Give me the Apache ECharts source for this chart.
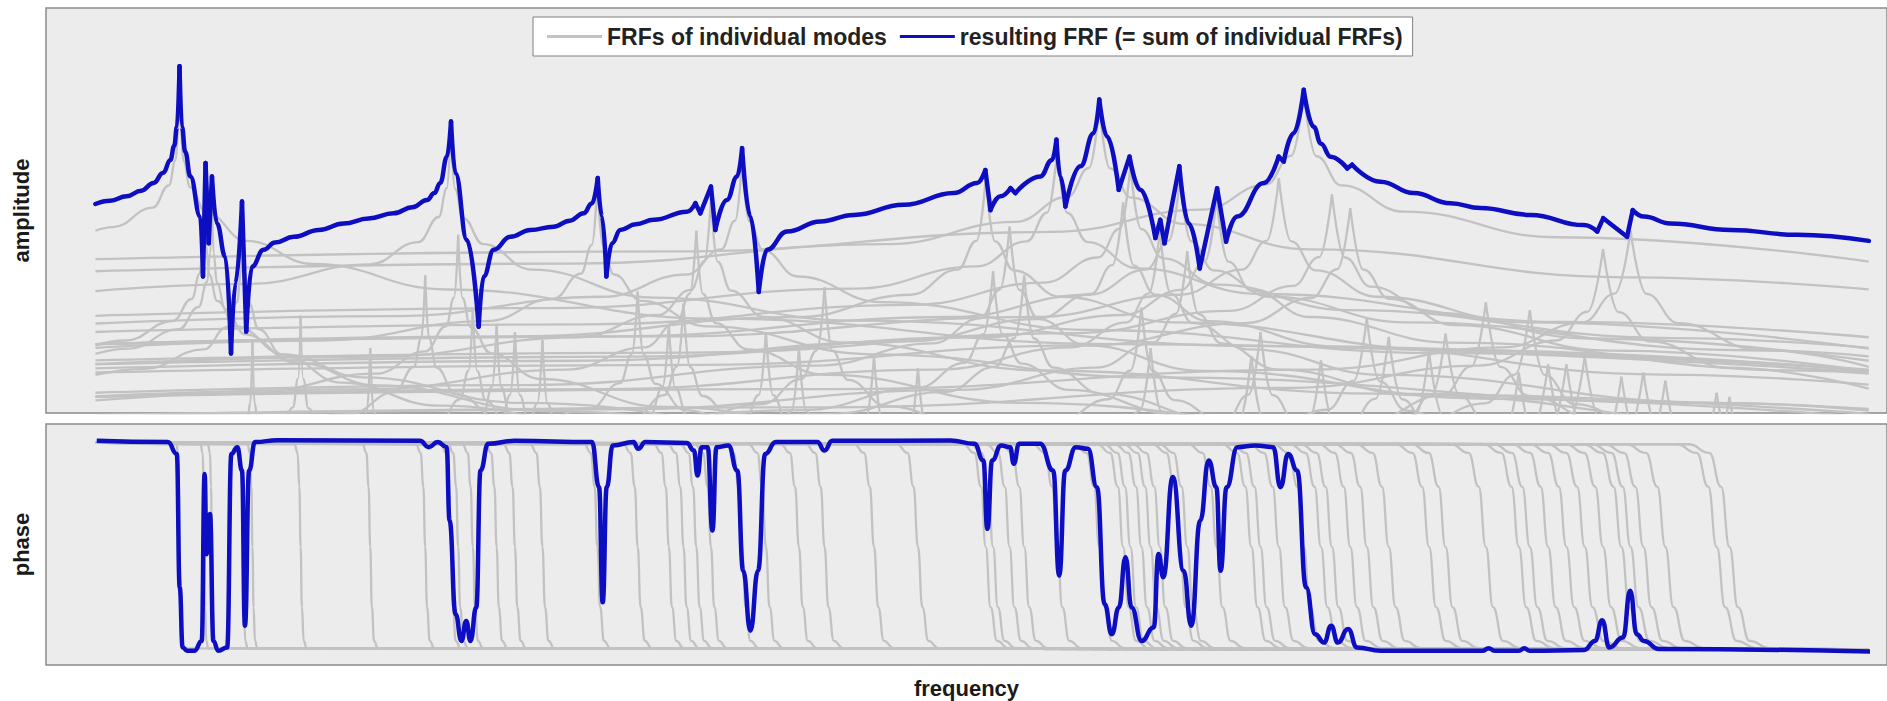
<!DOCTYPE html>
<html><head><meta charset="utf-8">
<script src="https://cdn.jsdelivr.net/npm/echarts@6/dist/echarts.min.js"></script>
<style>html,body{margin:0;padding:0;background:#fff}#c{width:1887px;height:701px}</style>
</head><body><div id="c"></div><script>
const seriesNames = ['FRFs of individual modes', 'resulting FRF (= sum of individual FRFs)'];
const axisNames = {amp: 'amplitude', phase: 'phase', freq: 'frequency'};

// resulting FRF, amplitude
const blueAmp = [[2.69,51.6],[3.5,52.4],[4.40,53.5],[5.2,54.9],[5.87,56.8],[6.4,59.3],[6.79,62.5],[7.0,66],[7.15,70.7],[7.29,85.6],[7.42,70.7],[7.6,64.5],[7.88,58.4],[8.42,48.5],[8.57,33.7],[8.71,61.7],[8.88,41.9],[9.06,58.4],[9.33,46.8],[9.79,38.6],[10.10,14.7],[10.34,32.0],[10.70,52.2],[10.93,20.1],[11.24,36.1],[11.88,40.3],[12.5,42.1],[13.52,43.5],[14.9,45.2],[16.25,46.8],[17.6,48.0],[18.98,49.3],[20.0,50.8],[20.80,52.6],[21.2,54.3],[21.52,56.8],[21.89,63.3],[22.11,72.0],[22.35,59.2],[22.98,42.7],[23.62,21.3],[23.89,33.7],[24.44,40.3],[25.35,43.5],[26.44,45.2],[27.71,46.0],[28.6,47.5],[29.35,49.3],[29.81,51.8],[30.12,58.0],[30.35,48.5],[30.59,33.7],[30.90,41.9],[31.35,45.2],[32.2,46.6],[33.17,47.7],[34.99,49.7],[35.45,51.8],[35.72,49.3],[36.30,55.9],[36.54,45.2],[37.17,52.6],[37.73,58.4],[38.0,65.4],[38.45,48.5],[38.91,29.9],[39.36,40.3],[40.45,44.8],[42.27,47.3],[44.09,48.9],[46.82,51.4],[49.55,54.3],[50.83,56.8],[51.28,60.0],[51.56,50.1],[52.10,53.5],[52.65,55.5],[52.92,54.3],[54.28,58.4],[54.92,62.5],[55.16,67.5],[55.37,58.4],[55.65,51.0],[56.47,60.9],[57.19,69.1],[57.50,77.4],[57.92,68.3],[58.56,55.1],[59.15,63.3],[59.74,55.1],[60.56,43.2],[60.83,47.7],[61.06,41.9],[61.87,60.9],[62.38,46.8],[62.98,35.7],[63.93,55.5],[64.42,42.3],[65.02,48.5],[66.48,56.8],[67.29,63.3],[67.57,62.1],[68.11,69.1],[68.66,79.8],[69.20,70.7],[69.6,66.5],[70.12,63.3],[71.03,60.4],[71.30,61.3],[72.85,57.1],[74.66,54.3],[76.67,51.8],[78.31,50.6],[81.04,48.9],[83.95,46.4],[84.68,44.8],[85.01,48.1],[86.31,43.5],[86.62,50.1],[87.23,48.5],[88.68,46.8],[91.96,45.2],[95.6,44.0],[99.51,42.5]];

// resulting FRF, phase
const bluePhase = [[2.77,93],[6.65,92.5],[7.14,87.6],[7.30,32.2],[7.46,7.3],[7.7,5.9],[8.11,5.9],[8.50,10],[8.66,79.3],[8.76,46],[8.95,62.7],[9.14,10],[9.40,5.9],[9.89,7.3],[10.12,87.6],[10.44,90.4],[10.70,80.7],[10.86,16.3],[11.09,80.7],[11.41,92.5],[12.64,93.3],[20.41,93],[20.9,90.4],[21.38,92.5],[21.87,90.4],[22.03,60],[22.36,21.1],[22.68,10],[22.94,18.3],[23.17,10],[23.49,24],[23.72,80.7],[24.14,91.8],[25.59,93],[29.80,92.5],[30.19,73.8],[30.39,26],[30.61,73.8],[30.94,91.1],[32.07,92.5],[32.33,89.7],[32.72,92.5],[34.98,92.1],[35.37,89],[35.57,78.6],[35.79,90.4],[36.12,90.4],[36.38,55.8],[36.6,90.4],[37.25,91.1],[37.74,80.7],[38.06,39.1],[38.45,14.2],[38.87,39.1],[39.26,87.6],[39.84,92.5],[42.11,92.5],[42.5,89],[42.92,93],[49.37,93.2],[50.68,91.8],[51.17,84.9],[51.39,56.5],[51.65,84.9],[52.14,91.1],[52.63,90.4],[52.83,83.5],[53.12,91.8],[54.27,91.8],[54.98,80.7],[55.31,37.1],[55.64,80.7],[56.22,90.4],[56.88,89.7],[57.37,73.8],[57.79,25.3],[58.18,12.8],[58.57,23.9],[58.93,44.7],[59.26,23.9],[59.81,10],[60.47,15.6],[60.73,46.1],[60.99,36.4],[61.51,78],[62.1,39.1],[62.52,16.3],[63.01,59.9],[63.47,84.9],[63.89,73.8],[64.12,39.1],[64.45,73.8],[65.04,90.4],[66.02,91.1],[66.99,90.4],[67.39,73.8],[67.81,87.6],[68.3,80.7],[68.79,32.2],[69.28,12.8],[69.77,9.3],[70.16,16.3],[70.52,9.3],[71.08,14.9],[71.57,7.3],[72.87,5.9],[78.42,5.9],[78.75,7],[79.07,5.9],[80.4,5.9],[80.7,6.9],[81.0,5.9],[83.97,6.2],[84.56,10],[84.95,18.6],[85.34,7.3],[86.09,11.4],[86.48,30.8],[86.84,12.8],[87.23,10],[88.05,6.6],[99.57,5.6]];

// individual modes, amplitude
const grayAmp = [
[[2.7,45],[3.65,45.9],[5.83,50.7],[6.71,56.2],[7.07,62.4],[7.22,69.5],[7.29,85],[7.36,69.4],[7.51,62.2],[7.87,55.7],[8.75,49.4],[10.94,42.5],[14.58,36.8],[21.87,30.5],[36.45,23.3],[58.3,17],[99.5,10]],
[[2.7,16.7],[4.33,17.9],[6.92,22.7],[7.96,28.2],[8.39,34.4],[8.56,41.5],[8.65,57],[8.74,41.4],[8.91,34.2],[9.34,27.7],[10.38,21.4],[12.98,14.5],[17.3,8.8],[25.95,2.5],[43.25,-4.7],[99.5,-15.8]],
[[2.7,14.6],[4.53,15.9],[7.25,20.7],[8.34,26.2],[8.79,32.4],[8.97,39.5],[9.06,55],[9.15,39.4],[9.33,32.2],[9.78,25.7],[10.87,19.4],[13.59,12.5],[18.12,6.8],[27.18,0.5],[45.3,-6.7],[99.5,-17.2]],
[[2.7,9.4],[5.38,10.9],[8.6,15.7],[9.89,21.2],[10.43,27.4],[10.64,34.5],[10.75,50],[10.86,34.4],[11.07,27.2],[11.61,20.7],[12.9,14.4],[16.13,7.5],[21.5,1.8],[32.25,-4.5],[53.75,-11.7],[99.5,-19.9]],
[[2.7,-22.6],[5.64,-21.1],[9.02,-16.3],[10.37,-10.8],[10.93,-4.6],[11.16,2.5],[11.27,18],[11.38,2.4],[11.61,-4.8],[12.17,-11.3],[13.52,-17.6],[16.9,-24.5],[99.5,-55]],
[[2.7,-17],[6.95,-15.1],[11.12,-10.3],[12.79,-4.8],[13.48,1.4],[13.76,8.5],[13.9,24],[14.04,8.4],[14.32,1.2],[15.01,-5.3],[16.68,-11.6],[20.85,-18.5],[99.5,-50]],
[[2.7,-25],[14.16,-18.3],[16.28,-12.8],[17.17,-6.6],[17.52,0.5],[17.7,16],[17.88,0.4],[18.23,-6.8],[19.12,-13.3],[21.24,-19.6],[99.5,-55]],
[[2.7,-7],[10.35,-5.1],[16.56,-0.3],[19.04,5.2],[20.08,11.4],[20.49,18.5],[20.7,34],[20.91,18.4],[21.32,11.2],[22.36,4.7],[24.84,-1.6],[31.05,-8.5],[41.4,-14.2],[62.1,-20.5],[99.5,-27.2]],
[[2.7,30.1],[11.05,31.9],[17.68,36.7],[20.33,42.2],[21.44,48.4],[21.88,55.5],[22.1,71],[22.32,55.4],[22.76,48.2],[23.87,41.7],[26.52,35.4],[33.15,28.5],[44.2,22.8],[66.3,16.5],[99.5,10.7]],
[[2.7,3.1],[11.25,4.9],[18,9.7],[20.7,15.2],[21.83,21.4],[22.28,28.5],[22.5,44],[22.73,28.4],[23.18,21.2],[24.3,14.7],[27,8.4],[33.75,1.5],[45,-4.2],[67.5,-10.5],[99.5,-16]],
[[2.7,-15],[11.65,-13.1],[18.64,-8.3],[21.44,-2.8],[22.6,3.4],[23.07,10.5],[23.3,26],[23.53,10.4],[24.0,3.2],[25.16,-3.3],[27.96,-9.6],[34.95,-16.5],[99.5,-40]],
[[2.7,-19],[19.68,-12.3],[22.63,-6.8],[23.86,-0.6],[24.35,6.5],[24.6,22],[24.85,6.4],[25.34,-0.8],[26.57,-7.3],[29.52,-13.6],[99.5,-45]],
[[2.7,-21],[20.48,-14.3],[23.55,-8.8],[24.83,-2.6],[25.34,4.5],[25.6,20],[25.86,4.4],[26.37,-2.8],[27.65,-9.3],[99.5,-45]],
[[2.7,-23],[21.68,-16.3],[24.93,-10.8],[26.29,-4.6],[26.83,2.5],[27.1,18],[27.37,2.4],[27.91,-4.8],[29.27,-11.3],[99.5,-45]],
[[2.7,16.1],[15.05,17.9],[24.08,22.7],[27.69,28.2],[29.2,34.4],[29.8,41.5],[30.1,57],[30.4,41.4],[31.0,34.2],[32.51,27.7],[36.12,21.4],[45.15,14.5],[60.2,8.8],[90.3,2.5],[99.5,1]],
[[2.7,-11],[16.15,-9.1],[25.84,-4.3],[29.72,1.2],[31.33,7.4],[31.98,14.5],[32.3,30],[32.62,14.4],[33.27,7.2],[34.88,0.7],[38.76,-5.6],[48.45,-12.5],[64.6,-18.2],[99.5,-25]],
[[2.7,-19],[27.2,-12.3],[31.28,-6.8],[32.98,-0.6],[33.66,6.5],[34,22],[34.34,6.4],[35.02,-0.8],[36.72,-7.3],[40.8,-13.6],[99.5,-40]],
[[2.7,-14],[27.84,-7.3],[32.02,-1.8],[33.76,4.4],[34.45,11.5],[34.8,27],[35.15,11.4],[35.84,4.2],[37.58,-2.3],[41.76,-8.6],[52.2,-15.5],[99.5,-30]],
[[2.7,4.1],[17.75,5.9],[28.4,10.7],[32.66,16.2],[34.44,22.4],[35.15,29.5],[35.5,45],[35.86,29.4],[36.57,22.2],[38.34,15.7],[42.6,9.4],[53.25,2.5],[71,-3.2],[99.5,-8.5]],
[[2.7,12.1],[18.15,13.9],[29.04,18.7],[33.4,24.2],[35.21,30.4],[35.94,37.5],[36.3,53],[36.66,37.4],[37.39,30.2],[39.2,23.7],[43.56,17.4],[54.45,10.5],[72.6,4.8],[99.5,-0.2]],
[[2.7,22.1],[19,23.9],[30.4,28.7],[34.96,34.2],[36.86,40.4],[37.62,47.5],[38,63],[38.38,47.4],[39.14,40.2],[41.04,33.7],[45.6,27.4],[57,20.5],[76,14.8],[99.5,10.5]],
[[2.7,-21],[31.44,-14.3],[36.16,-8.8],[38.12,-2.6],[38.91,4.5],[39.3,20],[39.69,4.4],[40.48,-2.8],[42.44,-9.3],[99.5,-40]],
[[2.7,-25],[37.81,-12.8],[39.87,-6.6],[40.69,0.5],[41.1,16],[41.51,0.4],[42.33,-6.8],[44.39,-13.3],[99.5,-40]],
[[2.7,-10],[34,-3.3],[39.1,2.2],[41.23,8.4],[42.08,15.5],[42.5,31],[42.93,15.4],[43.78,8.2],[45.9,1.7],[51,-4.6],[63.75,-11.5],[85,-17.2],[99.5,-19.5]],
[[2.7,-27],[41.58,-14.8],[43.84,-8.6],[44.75,-1.5],[45.2,14],[45.65,-1.6],[46.56,-8.8],[48.82,-15.3],[99.5,-40]],
[[2.7,-30],[43.79,-17.8],[46.17,-11.6],[47.12,-4.5],[47.6,11],[48.08,-4.6],[49.03,-11.8],[51.41,-18.3],[99.5,-40]],
[[2.7,17],[25.65,18.9],[41.04,23.7],[47.2,29.2],[49.76,35.4],[50.79,42.5],[51.3,58],[51.81,42.4],[52.84,35.2],[55.4,28.7],[61.56,22.4],[76.95,15.5],[99.5,10.4]],
[[2.7,-6],[25.85,-4.1],[41.36,0.7],[47.56,6.2],[50.15,12.4],[51.18,19.5],[51.7,35],[52.22,19.4],[53.25,12.2],[55.84,5.7],[62.04,-0.6],[77.55,-7.5],[99.5,-12.4]],
[[2.7,5],[26.3,6.9],[42.08,11.7],[48.39,17.2],[51.02,23.4],[52.07,30.5],[52.6,46],[53.13,30.4],[54.18,23.2],[56.81,16.7],[63.12,10.4],[78.9,3.5],[99.5,-1.2]],
[[2.7,-7],[26.7,-5.1],[42.72,-0.3],[49.13,5.2],[51.8,11.4],[52.87,18.5],[53.4,34],[53.93,18.4],[55.0,11.2],[57.67,4.7],[64.08,-1.6],[80.1,-8.5],[99.5,-12.9]],
[[2.7,24],[27.6,25.9],[44.16,30.7],[50.78,36.2],[53.54,42.4],[54.65,49.5],[55.2,65],[55.75,49.4],[56.86,42.2],[59.62,35.7],[66.24,29.4],[82.8,22.5],[99.5,18.7]],
[[2.7,35],[28.75,36.9],[46,41.7],[52.9,47.2],[55.78,53.4],[56.93,60.5],[57.5,76],[58.08,60.4],[59.23,53.2],[62.1,46.7],[69,40.4],[86.25,33.5],[99.5,30.5]],
[[2.7,11],[29.4,12.9],[47.04,17.7],[54.1,23.2],[57.04,29.4],[58.21,36.5],[58.8,52],[59.39,36.4],[60.56,29.2],[63.5,22.7],[70.56,16.4],[88.2,9.5],[99.5,7]],
[[2.7,20],[29.6,21.9],[47.36,26.7],[54.46,32.2],[57.42,38.4],[58.61,45.5],[59.2,61],[59.79,45.4],[60.98,38.2],[63.94,31.7],[71.04,25.4],[88.8,18.5],[99.5,16.1]],
[[2.7,-15],[29.9,-13.1],[47.84,-8.3],[55.02,-2.8],[58.01,3.4],[59.2,10.5],[59.8,26],[60.4,10.4],[61.59,3.2],[64.58,-3.3],[71.76,-9.6],[89.7,-16.5],[99.5,-18.5]],
[[2.7,4],[30.4,5.9],[48.64,10.7],[55.94,16.2],[58.98,22.4],[60.19,29.5],[60.8,45],[61.41,29.4],[62.62,22.2],[65.66,15.7],[72.96,9.4],[91.2,2.5],[99.5,0.6]],
[[2.7,17],[30.95,18.9],[49.52,23.7],[56.95,29.2],[60.04,35.4],[61.28,42.5],[61.9,58],[62.52,42.4],[63.76,35.2],[66.85,28.7],[74.28,22.4],[92.85,15.5],[99.5,14]],
[[2.7,-1],[31.15,0.9],[49.84,5.7],[57.32,11.2],[60.43,17.4],[61.68,24.5],[62.3,40],[62.92,24.4],[64.17,17.2],[67.28,10.7],[74.76,4.4],[93.45,-2.5],[99.5,-3.8]],
[[2.7,12],[31.95,13.9],[51.12,18.7],[58.79,24.2],[61.98,30.4],[63.26,37.5],[63.9,53],[64.54,37.4],[65.82,30.2],[69.01,23.7],[76.68,17.4],[95.85,10.5],[99.5,9.7]],
[[2.7,-27],[60.54,-14.8],[63.83,-8.6],[65.14,-1.5],[65.8,14],[66.46,-1.6],[67.77,-8.8],[71.06,-15.3],[99.5,-30]],
[[2.7,-21],[53.04,-14.3],[61,-8.8],[64.31,-2.6],[65.64,4.5],[66.3,20],[66.96,4.4],[68.29,-2.8],[71.6,-9.3],[79.56,-15.6],[99.5,-22]],
[[2.7,17],[33.65,18.9],[53.84,23.7],[61.92,29.2],[65.28,35.4],[66.63,42.5],[67.3,58],[67.97,42.4],[69.32,35.2],[72.68,28.7],[80.76,22.4],[99.5,15.9]],
[[2.7,38],[34.33,39.9],[54.93,44.7],[63.17,50.2],[66.6,56.4],[67.97,63.5],[68.66,79],[69.35,63.4],[70.72,56.2],[74.15,49.7],[82.39,43.4],[99.5,37.4]],
[[2.7,13],[35.1,14.9],[56.16,19.7],[64.58,25.2],[68.09,31.4],[69.5,38.5],[70.2,54],[70.9,38.4],[72.31,31.2],[75.82,24.7],[84.24,18.4],[99.5,12.9]],
[[2.7,10],[35.6,11.9],[56.96,16.7],[65.5,22.2],[69.06,28.4],[70.49,35.5],[71.2,50.6],[71.91,35.4],[73.34,28.2],[76.9,21.7],[85.44,15.4],[99.5,10.3]],
[[2.7,-17.6],[57.68,-10.9],[66.33,-5.4],[69.94,0.8],[71.38,7.9],[72.1,23.4],[72.82,7.8],[74.26,0.6],[77.87,-5.9],[86.52,-12.2],[99.5,-17]],
[[2.7,-22],[58.64,-15.3],[67.44,-9.8],[71.1,-3.6],[72.57,3.5],[73.3,18.8],[74.03,3.4],[75.5,-3.8],[79.16,-10.3],[87.96,-16.6],[99.5,-21]],
[[2.7,-26],[69.46,-13.8],[73.24,-7.6],[74.75,-0.5],[75.5,15],[76.26,-0.6],[77.77,-7.8],[81.54,-14.3],[99.5,-25]],
[[2.7,-21],[61.12,-14.3],[70.29,-8.8],[74.11,-2.6],[75.64,4.5],[76.4,19.6],[77.16,4.4],[78.69,-2.8],[82.51,-9.3],[91.68,-15.6],[99.5,-19]],
[[2.7,-14],[62.88,-7.3],[72.31,-1.8],[76.24,4.4],[77.81,11.5],[78.6,27.3],[79.39,11.4],[80.96,4.2],[84.89,-2.3],[94.32,-8.6],[99.5,-10.7]],
[[2.7,-16],[64.8,-9.3],[74.52,-3.8],[78.57,2.4],[80.19,9.5],[81,25.4],[81.81,9.4],[83.43,2.2],[87.48,-4.3],[97.2,-10.6],[99.5,-11.6]],
[[2.7,-29],[75.44,-16.8],[79.54,-10.6],[81.18,-3.5],[82,12],[82.82,-3.6],[84.46,-10.8],[88.56,-17.3],[99.5,-25]],
[[2.7,-29],[76.36,-16.8],[80.51,-10.6],[82.17,-3.5],[83,12],[83.83,-3.6],[85.49,-10.8],[89.64,-17.3],[99.5,-25]],
[[2.7,-0.5],[42.5,1.4],[68,6.2],[78.2,11.7],[82.45,17.9],[84.15,25],[85,40.5],[85.85,24.9],[87.55,17.7],[91.8,11.2],[99.5,6]],
[[2.7,4],[43.25,5.9],[69.2,10.7],[79.58,16.2],[83.91,22.4],[85.64,29.5],[86.5,45],[87.37,29.4],[89.1,22.2],[93.42,15.7],[99.5,11.4]],
[[2.7,-31],[80.22,-18.8],[84.58,-12.6],[86.33,-5.5],[87.2,10],[88.07,-5.6],[89.82,-12.8],[94.18,-19.3],[99.5,-22]],
[[2.7,-33],[81.33,-20.8],[85.75,-14.6],[87.52,-7.5],[88.4,8],[89.28,-7.6],[91.05,-14.8],[95.47,-21.3],[99.5,-23]],
[[2.7,-37],[84.55,-24.8],[89.14,-18.6],[90.98,-11.5],[91.9,4],[92.82,-11.6],[94.66,-18.8],[99.5,-25]],
[[2.7,-25],[55.48,-12.8],[58.49,-6.6],[59.7,0.5],[60.3,16],[60.9,0.4],[62.11,-6.8],[65.12,-13.3],[99.5,-30]],
[[2.7,-28],[64.03,-15.8],[67.51,-9.6],[68.9,-2.5],[69.6,13],[70.3,-2.6],[71.69,-9.8],[75.17,-16.3],[99.5,-30]],
[[2.7,-31],[73.97,-18.8],[77.99,-12.6],[79.6,-5.5],[80.4,10],[81.2,-5.6],[82.81,-12.8],[86.83,-19.3],[99.5,-25]],
[[2.7,-27],[77.28,-14.8],[81.48,-8.6],[83.16,-1.5],[84,14],[84.84,-1.6],[86.52,-8.8],[90.72,-15.3],[99.5,-22]],
[[2.7,-32],[79.12,-19.8],[83.42,-13.6],[85.14,-6.5],[86,9],[86.86,-6.6],[88.58,-13.8],[92.88,-20.3],[99.5,-23]],
[[2.7,-36],[83.9,-23.8],[88.46,-17.6],[90.29,-10.5],[91.2,5],[92.11,-10.6],[93.94,-17.8],[99.5,-25]]
];

// individual modes, phase: the levels each curve passes through, and the frequencies where it does
const phaseLevels = [92.3, 91.6, 88, 74, 49, 24, 10, 6.9, 6.4];
const grayPhaseX = [
[2.7,7.12,7.2,7.25,7.29,7.33,7.38,7.46,99.5],
[2.7,8.44,8.55,8.61,8.65,8.69,8.75,8.86,99.5],
[2.7,8.84,8.95,9.01,9.06,9.11,9.17,9.28,99.5],
[2.7,10.49,10.62,10.7,10.75,10.8,10.88,11.01,99.5],
[2.7,11.0,11.13,11.21,11.27,11.33,11.41,11.54,99.5],
[2.7,13.57,13.73,13.83,13.9,13.97,14.07,14.23,99.5],
[2.7,17.28,17.49,17.61,17.7,17.79,17.91,18.12,99.5],
[2.7,20.2,20.45,20.6,20.7,20.8,20.95,21.2,99.5],
[2.7,21.57,21.83,21.99,22.1,22.21,22.37,22.63,99.5],
[2.7,21.96,22.23,22.39,22.5,22.61,22.77,23.04,99.5],
[2.7,22.74,23.02,23.18,23.3,23.42,23.58,23.86,99.5],
[2.7,24.01,24.3,24.48,24.6,24.72,24.9,25.19,99.5],
[2.7,24.99,25.29,25.47,25.6,25.73,25.91,26.21,99.5],
[2.7,26.45,26.77,26.96,27.1,27.24,27.43,27.75,99.5],
[2.7,29.38,29.74,29.95,30.1,30.25,30.46,30.82,99.5],
[2.7,31.52,31.91,32.14,32.3,32.46,32.69,33.08,99.5],
[2.7,33.18,33.59,33.83,34,34.17,34.41,34.82,99.5],
[2.7,33.96,34.38,34.63,34.8,34.97,35.22,35.64,99.5],
[2.7,34.65,35.07,35.32,35.5,35.68,35.93,36.35,99.5],
[2.7,35.43,35.86,36.12,36.3,36.48,36.74,37.17,99.5],
[2.7,37.09,37.54,37.81,38,38.19,38.46,38.91,99.5],
[2.7,38.36,38.83,39.1,39.3,39.5,39.77,40.24,99.5],
[2.7,40.11,40.61,40.89,41.1,41.31,41.59,42.09,99.5],
[2.7,41.48,41.99,42.29,42.5,42.71,43.01,43.52,99.5],
[2.7,44.12,44.66,44.97,45.2,45.43,45.74,46.28,99.5],
[2.7,46.46,47.03,47.36,47.6,47.84,48.17,48.74,99.5],
[2.7,50.07,50.68,51.04,51.3,51.56,51.92,52.53,99.5],
[2.7,50.46,51.08,51.44,51.7,51.96,52.32,52.94,99.5],
[2.7,51.34,51.97,52.34,52.6,52.86,53.23,53.86,99.5],
[2.7,52.12,52.76,53.13,53.4,53.67,54.04,54.68,99.5],
[2.7,53.88,54.54,54.92,55.2,55.48,55.86,56.52,99.5],
[2.7,56.12,56.81,57.21,57.5,57.79,58.19,58.88,99.5],
[2.7,57.39,58.09,58.51,58.8,59.09,59.51,60.21,99.5],
[2.7,57.78,58.49,58.9,59.2,59.5,59.91,60.62,99.5],
[2.7,58.36,59.08,59.5,59.8,60.1,60.52,61.24,99.5],
[2.7,59.34,60.07,60.5,60.8,61.1,61.53,62.26,99.5],
[2.7,60.41,61.16,61.59,61.9,62.21,62.64,63.39,99.5],
[2.7,60.8,61.55,61.99,62.3,62.61,63.05,63.8,99.5],
[2.7,62.37,63.13,63.58,63.9,64.22,64.67,65.43,99.5],
[2.7,64.22,65.01,65.47,65.8,66.13,66.59,67.38,99.5],
[2.7,64.71,65.5,65.97,66.3,66.63,67.1,67.89,99.5],
[2.7,65.68,66.49,66.96,67.3,67.64,68.11,68.92,99.5],
[2.7,67.01,67.84,68.32,68.66,69.0,69.48,70.31,99.5],
[2.7,68.52,69.36,69.85,70.2,70.55,71.04,71.88,99.5],
[2.7,69.49,70.35,70.84,71.2,71.56,72.05,72.91,99.5],
[2.7,70.37,71.23,71.74,72.1,72.46,72.97,73.83,99.5],
[2.7,71.54,72.42,72.93,73.3,73.67,74.18,75.06,99.5],
[2.7,73.69,74.59,75.12,75.5,75.88,76.41,77.31,99.5],
[2.7,74.57,75.48,76.02,76.4,76.78,77.32,78.23,99.5],
[2.7,76.71,77.66,78.21,78.6,78.99,79.54,80.49,99.5],
[2.7,79.06,80.03,80.59,81,81.41,81.97,82.94,99.5],
[2.7,80.03,81.02,81.59,82,82.41,82.98,83.97,99.5],
[2.7,81.01,82,82.58,83,83.42,84,84.99,99.5],
[2.7,82.96,83.98,84.57,85,85.43,86.02,87.04,99.5],
[2.7,84.42,85.46,86.07,86.5,86.93,87.54,88.58,99.5],
[2.7,85.11,86.15,86.76,87.2,87.64,88.25,89.29,99.5],
[2.7,86.28,87.34,87.96,88.4,88.84,89.46,90.52,99.5],
[2.7,89.69,90.8,91.44,91.9,92.36,93.0,94.11,99.5],
[2.7,58.85,59.58,60.0,60.3,60.6,61.02,61.75,99.5],
[2.7,67.93,68.76,69.25,69.6,69.95,70.44,71.27,99.5],
[2.7,78.47,79.44,80.0,80.4,80.8,81.36,82.33,99.5],
[2.7,81.98,82.99,83.58,84,84.42,85.01,86.02,99.5],
[2.7,83.94,84.97,85.57,86,86.43,87.03,88.06,99.5],
[2.7,89.01,90.11,90.74,91.2,91.66,92.29,93.39,99.5]
];

// break a traced curve into its rising / falling runs so each peak and dip keeps its sharp tip
function runs(d) {
  const out = [];
  let s = 0;
  for (let i = 1; i < d.length - 1; i++) {
    if ((d[i][1] - d[i - 1][1]) * (d[i + 1][1] - d[i][1]) < 0) { out.push(d.slice(s, i + 1)); s = i; }
  }
  out.push(d.slice(s));
  return out;
}

const GRAY = '#c2c2c2', BLUE = '#0d0dc2', FONT = 'Liberation Sans, Arial, sans-serif';
const series = [];
grayAmp.forEach(d => runs(d).forEach(seg => series.push({
  name: seriesNames[0], type: 'line', xAxisIndex: 0, yAxisIndex: 0, data: seg,
  symbol: 'none', silent: true, z: 2, smooth: 0.45, smoothMonotone: 'x',
  lineStyle: {color: GRAY, width: 2.3}, itemStyle: {color: GRAY}
})));
grayPhaseX.forEach(xs => series.push({
  name: seriesNames[0], type: 'line', xAxisIndex: 1, yAxisIndex: 1,
  data: xs.map((x, i) => [x, phaseLevels[i]]),
  symbol: 'none', silent: true, z: 2, smooth: 0.5, smoothMonotone: 'x',
  lineStyle: {color: GRAY, width: 2.3}, itemStyle: {color: GRAY}
}));
runs(blueAmp).forEach(seg => series.push({
  name: seriesNames[1], type: 'line', xAxisIndex: 0, yAxisIndex: 0, data: seg,
  symbol: 'none', silent: true, z: 5, smooth: 0.45, smoothMonotone: 'x',
  lineStyle: {color: BLUE, width: 4.5, join: 'round', cap: 'round'}, itemStyle: {color: BLUE}
}));
series.push({
  name: seriesNames[1], type: 'line', xAxisIndex: 1, yAxisIndex: 1, data: bluePhase,
  symbol: 'none', silent: true, z: 5, smooth: 0.5, smoothMonotone: 'x',
  lineStyle: {color: BLUE, width: 4.5, join: 'round'}, itemStyle: {color: BLUE}
});

const hidden = {axisLine: {show: false}, axisTick: {show: false}, axisLabel: {show: false}, splitLine: {show: false}};
const nameStyle = {fontFamily: FONT, fontSize: 22, fontWeight: 'bold', color: '#1a1a1a'};
const chart = echarts.init(document.getElementById('c'), null, {renderer: 'svg'});
chart.setOption({
  animation: false,
  backgroundColor: '#ffffff',
  legend: {
    left: 533, top: 17, icon: 'rect', itemWidth: 55, itemHeight: 3, itemGap: 13,
    padding: [8, 10, 8, 14], backgroundColor: '#ffffff', borderColor: '#808080', borderWidth: 1,
    selectedMode: false,
    textStyle: {fontFamily: FONT, fontSize: 23, fontWeight: 'bold', color: '#222'},
    data: [{name: seriesNames[0], itemStyle: {color: GRAY}}, {name: seriesNames[1], itemStyle: {color: BLUE}}]
  },
  grid: [
    {left: 46, top: 8, width: 1841, height: 405, show: true, backgroundColor: '#ececec', borderColor: '#8a8a8a', borderWidth: 1.5},
    {left: 46, top: 424, width: 1841, height: 241, show: true, backgroundColor: '#ececec', borderColor: '#8a8a8a', borderWidth: 1.5}
  ],
  xAxis: [
    Object.assign({type: 'value', gridIndex: 0, min: 0, max: 100.5}, hidden),
    Object.assign({type: 'value', gridIndex: 1, min: 0, max: 100.5, name: axisNames.freq,
      nameLocation: 'middle', nameGap: 12, nameTextStyle: nameStyle}, hidden)
  ],
  yAxis: [
    Object.assign({type: 'value', gridIndex: 0, min: 0, max: 100, name: axisNames.amp,
      nameLocation: 'middle', nameGap: 14, nameTextStyle: nameStyle}, hidden),
    Object.assign({type: 'value', gridIndex: 1, min: 0, max: 100, name: axisNames.phase,
      nameLocation: 'middle', nameGap: 14, nameTextStyle: nameStyle}, hidden)
  ],
  series: series
});
</script></body></html>
